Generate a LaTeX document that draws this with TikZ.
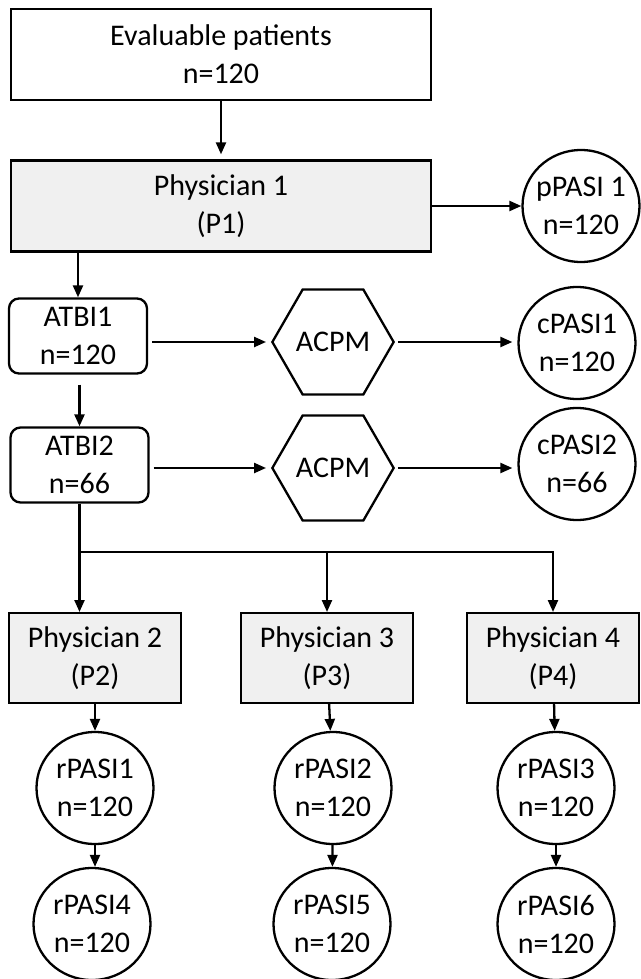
\documentclass[tikz,border=0pt]{standalone}
\usepackage{fontspec}
\setmainfont{Carlito}
\usetikzlibrary{arrows.meta,shapes.geometric}

\begin{document}
\begin{tikzpicture}[x=1pt,y=-1pt,
        every node/.style={font=\fontsize{30}{38}\selectfont, align=center, inner sep=0pt},
        plainbox/.style={draw, line width=2.3pt, minimum width=420pt, minimum height=91pt},
        docbox/.style={draw, line width=2pt, fill=gray!12, minimum width=172pt, minimum height=90pt},
        atbibox/.style={draw, line width=2.3pt, rounded corners=10pt, minimum width=138pt, minimum height=75pt},
        acpm/.style={draw, line width=2.3pt, regular polygon, regular polygon sides=6, minimum size=110pt},
        pasi/.style={draw, line width=2.3pt, ellipse, inner xsep=-6pt, minimum width=117pt, minimum height=112pt},
        arr/.style={line width=2.3pt, -{Triangle[length=12pt,width=10pt]}}]
        %\draw[gray] (0,0) grid[step=40] (640,979);
        \useasboundingbox (0,0) rectangle (640,979);

        \node[plainbox] (eval) at (221,54.5) {Evaluable patients\\n=120};
        \node[plainbox, fill=gray!12] (p1) at (221,206) {Physician 1\\(P1)};
        \node[pasi] (ppasi) at (581,206) {pPASI 1\\n=120};

        \node[atbibox] (atbi1) at (78,336) {ATBI1\\n=120};
        \node[acpm] (acpm1) at (333,342) {ACPM};
        \node[pasi] (cpasi1) at (577,343) {cPASI1\\n=120};

        \node[atbibox] (atbi2) at (79.5,465) {ATBI2\\n=66};
        \node[acpm] (acpm2) at (333,468) {ACPM};
        \node[pasi] (cpasi2) at (577,464) {cPASI2\\n=66};

        \node[docbox] (p2) at (95,658) {Physician 2\\(P2)};
        \node[docbox] (p3) at (327,658) {Physician 3\\(P3)};
        \node[docbox] (p4) at (553,658) {Physician 4\\(P4)};

        \node[pasi] (rpasi1) at (95,788) {rPASI1\\n=120};
        \node[pasi] (rpasi2) at (333,788) {rPASI2\\n=120};
        \node[pasi] (rpasi3) at (556,788) {rPASI3\\n=120};
        \node[pasi] (rpasi4) at (92,924) {rPASI4\\n=120};
        \node[pasi] (rpasi5) at (332,924) {rPASI5\\n=120};
        \node[pasi] (rpasi6) at (556,924) {rPASI6\\n=120};

        \coordinate (bar) at (79,552);

        \draw[arr, shorten >=5pt] (eval) -- (p1);
        \draw[arr] (p1.east) -- (ppasi.west);
        \draw[arr] (atbi1.north |- p1.south) -- (atbi1.north);
        \draw[arr, shorten <=4pt, shorten >=5pt] (atbi1.east |- acpm1.west) -- (acpm1.west);
        \draw[arr, shorten <=3pt, shorten >=5pt] (acpm1.east) -- (acpm1.east -| cpasi1.west);
        \draw[arr, shorten <=10pt] (atbi1.south -| atbi2.north) -- (atbi2.north);
        \draw[arr, shorten <=4pt, shorten >=5pt] (atbi2.east |- acpm2.west) -- (acpm2.west);
        \draw[arr, shorten <=3pt, shorten >=5pt] (acpm2.east) -- (acpm2.east -| cpasi2.west);

        \draw[arr] (atbi2.south) -- (atbi2.south |- p2.north);
        \draw[arr] (bar) -| (p4.north);
        \draw[arr] (bar -| p3.north) -- (p3.north);

        \draw[arr] (p2) -- (rpasi1);
        \draw[arr] (p3) -- (rpasi2);
        \draw[arr] (p4) -- (rpasi3);
        \draw[arr] (rpasi1.south) -- (rpasi1.south |- rpasi4.north);
        \draw[arr] (rpasi2) -- (rpasi5);
        \draw[arr] (rpasi3) -- (rpasi6);
    \end{tikzpicture}
\end{document}
